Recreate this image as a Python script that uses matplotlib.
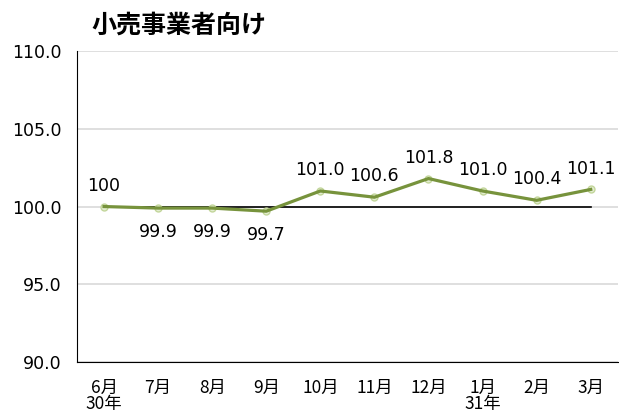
import matplotlib
matplotlib.use("Agg")
import matplotlib.pyplot as plt

plt.rcParams['font.family'] = ['DejaVu Sans', 'Noto Sans CJK JP']

# data
months = ["6月\n30年", "7月", "8月", "9月", "10月", "11月", "12月", "1月\n31年", "2月", "3月"]
values = [100.0, 99.9, 99.9, 99.7, 101.0, 100.6, 101.8, 101.0, 100.4, 101.1]
labels = ["100", "99.9", "99.9", "99.7", "101.0", "100.6", "101.8", "101.0", "100.4", "101.1"]
label_below = [False, True, True, True, False, False, False, False, False, False]
base = 100
yticks = [90, 95, 100, 105, 110]

fig = plt.figure(figsize=(6.19, 4.12), dpi=100)
ax = fig.add_axes([0.1244, 0.1214, 0.8736, 0.7546])

x = list(range(len(months)))
ax.plot([x[0], x[-1]], [base, base], color='black', lw=1.2, zorder=3)
# faint markers under the line
ax.plot(x, values, linestyle='none', marker='o', markersize=5,
        markerfacecolor='#e3edd0', markeredgecolor='#c3d69b', zorder=3.5)
ax.plot(x, values, color='#77933c', lw=2.3, zorder=4)

for xi, v, lab, below in zip(x, values, labels, label_below):
    off = -17 if below else 15
    ax.annotate(lab, (xi, v), xytext=(0, off), textcoords='offset points',
                ha='center', va='center', fontsize=12.5, annotation_clip=False)

ax.set_xlim(-0.5, len(months) - 0.5)
ax.set_ylim(90, 110)
ax.set_yticks(yticks)
ax.set_yticklabels([f"{t:.1f}" for t in yticks], fontsize=12.5)
ax.set_xticks(x)
ax.set_xticklabels(months, fontsize=12.5, linespacing=0.85,
                   family=['Noto Sans CJK JP'])
ax.tick_params(axis='y', length=0, pad=11)
ax.tick_params(axis='x', length=0, pad=12)
ax.grid(axis='y', color='#d9d9d9', lw=1.2)
ax.set_axisbelow(True)
for s in ['top', 'right']:
    ax.spines[s].set_visible(False)
ax.spines['left'].set_color('black')
ax.spines['bottom'].set_color('black')

fig.text(0.289, 0.939, "小売事業者向け", fontsize=18, fontweight='bold',
         ha='center', va='center', family=['Noto Sans CJK JP'])

fig.savefig("out.png", dpi=100)
